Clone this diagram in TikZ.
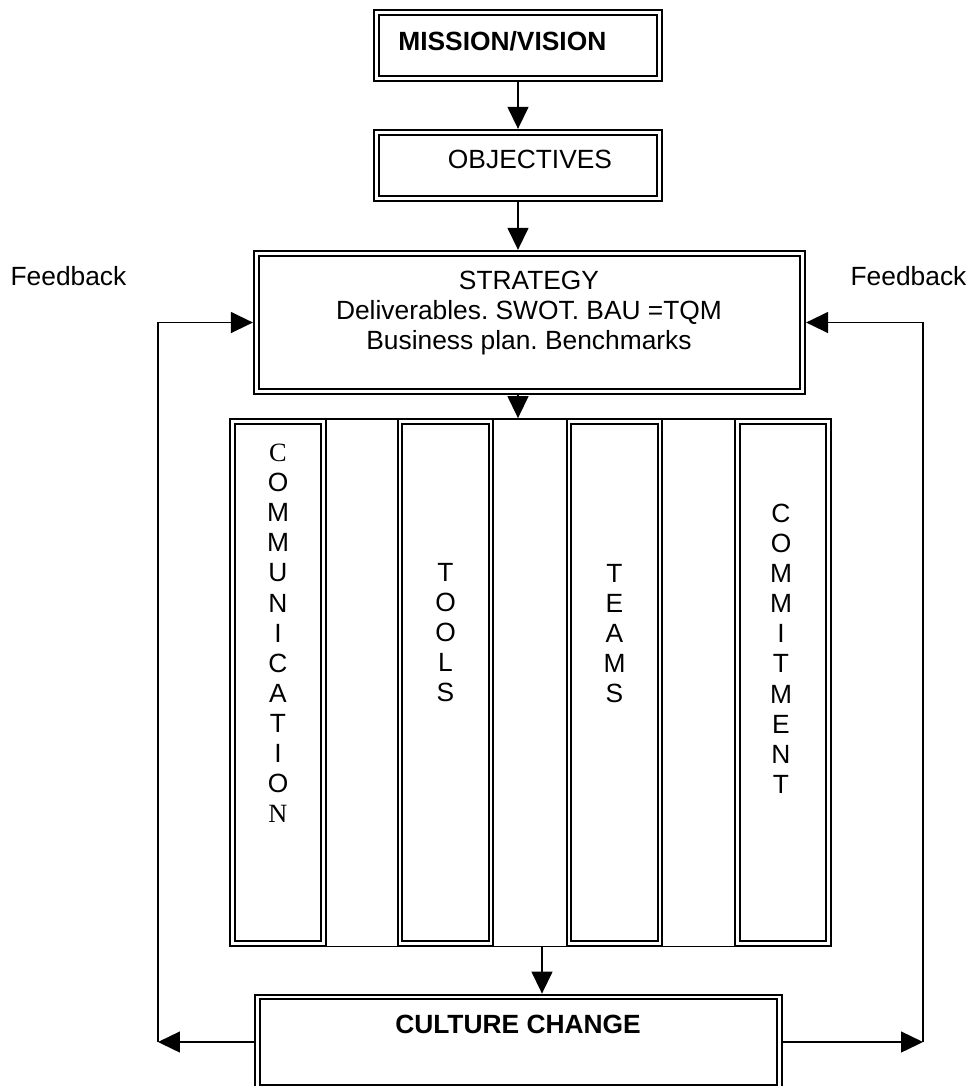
\documentclass[tikz,border=0pt]{standalone}
\usepackage{fontspec}
\setmainfont{Liberation Sans}
\newfontfamily\timesletter{Liberation Serif}
\usetikzlibrary{arrows.meta}
\frenchspacing
\tikzset{
  dbox/.style={draw, double, line width=1.15pt, double distance=1.6pt, outer sep=1.95pt, inner sep=0pt},
  pillar/.style={dbox, minimum width=1.82cm, minimum height=10.45cm},
  txt/.style={inner sep=0pt, align=center, font=\fontsize{15}{17.1}\selectfont},
  txtb/.style={txt, font=\fontsize{15}{17.1}\selectfont\bfseries},
  link/.style={line width=0.8pt, -{Triangle[length=0.44cm, width=0.42cm]}},
}

\begin{document}
\begin{tikzpicture}[x=0.02cm, y=-0.02cm]
\useasboundingbox (0,0) rectangle (969,1086);

% boxes
\node[dbox, minimum width=5.67cm, minimum height=1.33cm] (mission) at (518,45.5) {};
\node[dbox, minimum width=5.67cm, minimum height=1.33cm] (objectives) at (518,165.5) {};
\node[dbox, minimum width=10.93cm, minimum height=2.77cm] (strategy) at (529.5,322.5) {};
\node[draw, line width=0.8pt, minimum width=12.03cm, minimum height=10.55cm] (pillars) at (530.5,682.5) {};
\node[pillar] (comm) at (278,682.5) {};
\node[pillar] (tools) at (445.5,682.5) {};
\node[pillar] (teams) at (614.5,682.5) {};
\node[pillar] (commit) at (783,682.5) {};
\node[dbox, minimum width=10.45cm, minimum height=1.8cm] (culture) at (518.5,1042) {};

% texts
\node[txtb, anchor=base west] (missiontext) at (398,50) {MISSION/VISION};
\node[txt, anchor=base] (objtext) at (530,168) {OBJECTIVES};
\node[txt, anchor=north] (strattext) at (529,271) {STRATEGY\\Deliverables. SWOT. BAU =TQM\\Business plan. Benchmarks};
\node[txt, anchor=north] (commtext) at (278,444) {{\timesletter C}\\O\\M\\M\\U\\N\\I\\C\\A\\T\\I\\O\\{\timesletter N}};
\node[txt, anchor=north] (toolstext) at (445.5,563) {T\\O\\O\\L\\S};
\node[txt, anchor=north] (teamstext) at (614.5,564) {T\\E\\A\\M\\S};
\node[txt, anchor=north] (committext) at (781,504) {C\\O\\M\\M\\I\\T\\M\\E\\N\\T};
\node[txtb, anchor=base] (culttext) at (518,1033) {CULTURE CHANGE};
\node[txt] (fbtextL) at (68.5,276) {Feedback};
\node[txt] (fbtextR) at (908.5,276) {Feedback};

% arrows
\coordinate (fbL) at (158,0);
\coordinate (fbR) at (923,0);
\draw[link] (mission) -- (objectives);
\draw[link] (objectives.south) -- (objectives.south |- strategy.north);
\draw[link] (objectives.south |- strategy.south) -- (objectives.south |- pillars.north);
\draw[link] ([xshift=0.23cm]pillars.south) -- ([xshift=0.23cm]pillars.south |- culture.north);
\draw[link] (culture.west) -- (culture.west -| fbL);
\draw[link] (culture.west -| fbL) |- (strategy.west);
\draw[link] (culture.east) -- (culture.east -| fbR);
\draw[link] (culture.east -| fbR) |- (strategy.east);
\end{tikzpicture}
\end{document}
